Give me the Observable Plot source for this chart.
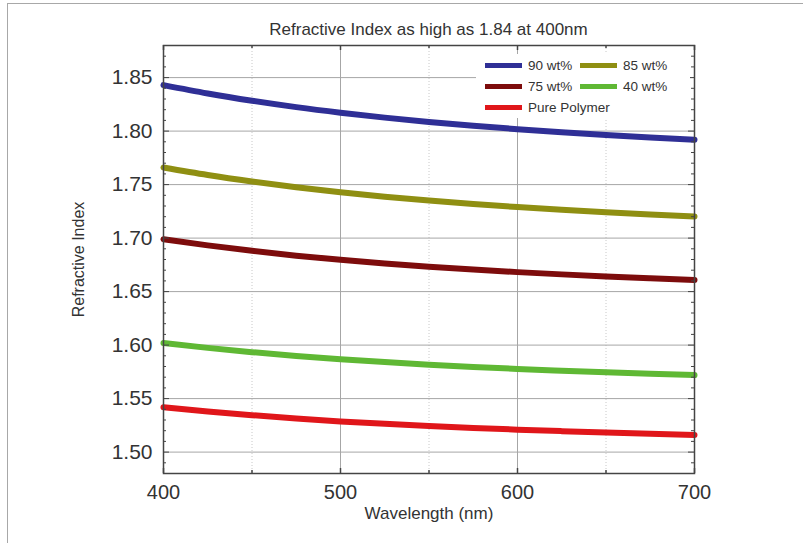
<!DOCTYPE html>
<html><head><meta charset="utf-8">
<script src="https://cdn.jsdelivr.net/npm/d3@7"></script>
<script src="https://cdn.jsdelivr.net/npm/@observablehq/plot@0.6"></script>
<style>
body{margin:0;background:#fff;font-family:"Liberation Sans",Arial,sans-serif;}
#wrap{position:relative;width:803px;height:543px;overflow:hidden;background:#fff;}
#border{position:absolute;left:7px;top:3px;width:800px;height:545px;border-top:1.5px solid #a8a8a8;border-left:1.5px solid #a8a8a8;}
#title{position:absolute;left:163px;width:531px;top:20px;text-align:center;font-size:17px;color:#333;}
#chart{position:absolute;left:0;top:40px;}
#legend{position:absolute;left:476px;top:54px;width:214px;height:64px;background:#fff;}
.item{position:absolute;display:flex;align-items:center;font-size:13.5px;color:#333;height:16px;}
.sw{width:37px;height:5px;margin-right:6px;}
</style>
</head><body>
<div id="wrap">
  <div id="border"></div>
  <div id="title">Refractive Index as high as 1.84 at 400nm</div>
  <div id="chart"></div>
  <div id="legend"></div>
</div>
<script>
const wavelength = [400,425,450,475,500,525,550,575,600,625,650,675,700];
const series = ["90 wt%","85 wt%","75 wt%","40 wt%","Pure Polymer"];
const colors = ["#2f2f96","#8f8f12","#7d0c0c","#5fb834","#e0161a"];
const n90   = [1.8430,1.8352,1.8284,1.8224,1.8172,1.8126,1.8086,1.8050,1.8018,1.7990,1.7964,1.7941,1.7920];
const n85   = [1.7660,1.7590,1.7529,1.7475,1.7428,1.7387,1.7351,1.7319,1.7290,1.7265,1.7242,1.7221,1.7202];
const n75   = [1.6990,1.6932,1.6881,1.6836,1.6797,1.6763,1.6733,1.6706,1.6682,1.6661,1.6642,1.6625,1.6609];
const n40   = [1.6020,1.5974,1.5934,1.5899,1.5868,1.5841,1.5817,1.5796,1.5777,1.5761,1.5746,1.5732,1.5720];
const nPure = [1.5420,1.5380,1.5345,1.5314,1.5287,1.5264,1.5244,1.5226,1.5210,1.5196,1.5183,1.5171,1.5160];
const xTicks = [400,500,600,700];
const xGrid = [500,600];
const xMinor = [450,550,650];
const yTicks = [1.50,1.55,1.60,1.65,1.70,1.75,1.80,1.85];
const yDomain = [1.48,1.88];
const xDomain = [400,700];

const values = [n90,n85,n75,n40,nPure];
const data = series.flatMap((s,i)=>wavelength.map((w,j)=>({series:s, wavelength:w, n:values[i][j]})));
const yMinor = d3.range(148,189).map(v=>v/100).filter(v=>!yTicks.some(t=>Math.abs(t-v)<1e-9));

const W = 803, H = 503, mL = 163, mR = 109, mT = 5, mB = 70;
const iw = W-mL-mR, ih = H-mT-mB;
const tc = "#444";

const plot = Plot.plot({
  width: W, height: H,
  marginLeft: mL, marginRight: mR, marginTop: mT, marginBottom: mB,
  style: {fontFamily: "'Liberation Sans', Arial, sans-serif", color: "#333", background: "transparent"},
  x: {domain: xDomain},
  y: {domain: yDomain},
  color: {domain: series, range: colors},
  marks: [
    Plot.ruleX(xMinor, {x: d=>d, stroke: "#c8c8c8", strokeDasharray: "1,2"}),
    Plot.ruleX(xGrid, {x: d=>d, stroke: "#a6a6a6"}),
    Plot.ruleY(yTicks, {y: d=>d, stroke: "#a6a6a6"}),
    Plot.line(data, {x: "wavelength", y: "n", stroke: "series", strokeWidth: 6, curve: "monotone-x"}),
    Plot.frame({stroke: tc, strokeWidth: 1.5}),
    Plot.tickY(yTicks, {y: d=>d, stroke: tc, insetRight: iw-6}),
    Plot.tickY(yMinor, {y: d=>d, stroke: tc, insetRight: iw-3}),
    Plot.tickY(yTicks, {y: d=>d, stroke: tc, insetLeft: iw-6}),
    Plot.tickY(yMinor, {y: d=>d, stroke: tc, insetLeft: iw-3}),
    Plot.tickX(xTicks, {x: d=>d, stroke: tc, strokeWidth: 1.5, insetTop: ih-5}),
    Plot.tickX(xMinor, {x: d=>d, stroke: tc, strokeWidth: 1.5, insetTop: ih-3}),
    Plot.tickX(xTicks, {x: d=>d, stroke: tc, strokeWidth: 1.5, insetBottom: ih-5}),
    Plot.tickX(xMinor, {x: d=>d, stroke: tc, strokeWidth: 1.5, insetBottom: ih-3}),
    Plot.axisY({ticks: yTicks, tickSize: 0, tickPadding: 11, fontSize: 21, tickFormat: d=>d.toFixed(2), label: null}),
    Plot.axisX({ticks: xTicks, tickSize: 0, tickPadding: 11, fontSize: 20, tickFormat: d=>String(d), label: null}),
    Plot.text(["Wavelength (nm)"], {frameAnchor: "bottom", dy: 45, fontSize: 17, fill: "#333"}),
    Plot.text(["Refractive Index"], {frameAnchor: "left", dx: -85, rotate: -90, textAnchor: "middle", fontSize: 16, fill: "#333"})
  ]
});
document.getElementById("chart").appendChild(plot);

const legend = document.getElementById("legend");
const pos = [[9,3],[104,3],[9,24],[104,24],[9,45]];
series.forEach((s,i)=>{
  const it = document.createElement("div");
  it.className = "item";
  it.style.left = pos[i][0]+"px";
  it.style.top = pos[i][1]+"px";
  const sw = document.createElement("span");
  sw.className = "sw";
  sw.style.background = colors[i];
  const tx = document.createElement("span");
  tx.textContent = s;
  it.appendChild(sw); it.appendChild(tx);
  legend.appendChild(it);
});
</script>
</body></html>
